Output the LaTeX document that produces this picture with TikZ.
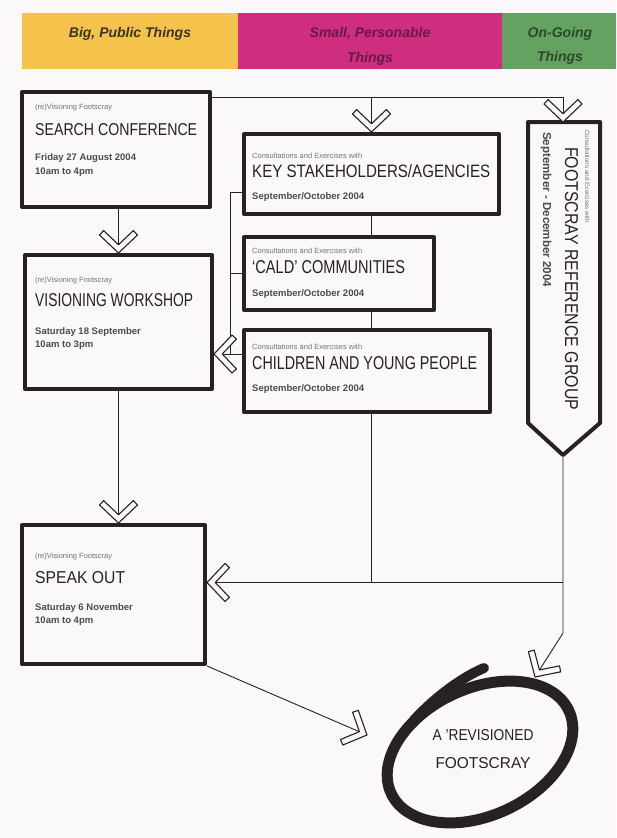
\documentclass[tikz,border=0pt]{standalone}
\usepackage{fontspec}
\setmainfont{Liberation Sans}
\usepackage{graphicx}
\usetikzlibrary{calc,shapes.geometric}
\definecolor{bgc}{RGB}{250,248,248}
\definecolor{ylw}{RGB}{245,194,76}
\definecolor{mag}{RGB}{207,46,128}
\definecolor{grn}{RGB}{99,162,96}
\definecolor{hdy}{RGB}{60,52,36}
\definecolor{hdm}{RGB}{104,26,70}
\definecolor{hdg}{RGB}{44,72,42}
\definecolor{ink}{RGB}{40,33,33}
\definecolor{greytxt}{RGB}{118,114,114}
\definecolor{datec}{RGB}{78,74,74}
\newcommand{\hwtext}[3]{\resizebox{#1pt}{#2pt}{#3}}
\begin{document}
\begin{tikzpicture}[x=1pt,y=-1pt,
  sbox/.style={draw=ink, line width=4pt, inner sep=0pt, anchor=north west, line join=round},
  conn/.style={draw=ink, line width=0.9pt},
  smalltxt/.style={anchor=base west, inner sep=0pt, text=greytxt, font=\fontsize{7.5}{9}\selectfont},
  datetxt/.style={anchor=base west, inner sep=0pt, text=datec, font=\fontsize{9.5}{11}\selectfont\bfseries},
  bigtxt/.style={anchor=base west, inner sep=0pt, text=ink},
  headtxt/.style={anchor=base, inner sep=0pt, font=\fontsize{14}{16}\selectfont\bfseries\itshape},
  chev/.pic={\filldraw[fill=bgc, draw=ink, line width=1.1pt, line join=round] (0,0) -- (-18,-19) -- (-22.4,-14.9) -- (-8.3,0) -- (-22.4,14.9) -- (-18,19) -- cycle;}
]
\useasboundingbox (0,0) rectangle (616,838);
\fill[bgc] (0,0) rectangle (616,838);
% header
\fill[ylw] (22,13) rectangle (238,69);
\fill[mag] (238,13) rectangle (502,69);
\fill[grn] (502,13) rectangle (616,69);
\node[headtxt, text=hdy] (h1) at (130,37) {Big, Public Things};
\node[headtxt, text=hdm] (h2) at (370,37) {Small, Personable};
\node[headtxt, text=hdm] (h2b) at (370,62) {Things};
\node[headtxt, text=hdg] (h3) at (560,37) {On-Going};
\node[headtxt, text=hdg] (h3b) at (560,61) {Things};
% boxes
\node[sbox, minimum width=188pt, minimum height=115pt] (sc) at (20,90) {};
\node[sbox, minimum width=187pt, minimum height=134pt] (vw) at (23,253) {};
\node[sbox, minimum width=183pt, minimum height=139pt] (so) at (20,523) {};
\node[sbox, minimum width=255pt, minimum height=80pt] (ksa) at (242,132) {};
\node[sbox, minimum width=190pt, minimum height=73pt] (cald) at (242,235) {};
\node[sbox, minimum width=246pt, minimum height=82pt] (cyp) at (242,328) {};
\draw[draw=ink, line width=4pt, line join=round] (528,122) -- (600,122) -- (600,423) -- (563,455) -- (528,423) -- cycle;
% texts
\node[smalltxt] (sc1) at (35,109) {(re)Visioning Footscray};
\node[bigtxt] (sc2) at (35,135) {\hwtext{162}{12}{SEARCH CONFERENCE}};
\node[datetxt] (sc3) at (35,160) {Friday 27 August 2004};
\node[datetxt] (sc4) at (35,174) {10am to 4pm};
\node[smalltxt] (vw1) at (35,282) {(re)Visioning Footscray};
\node[bigtxt] (vw2) at (35,306) {\hwtext{158}{13}{VISIONING WORKSHOP}};
\node[datetxt] (vw3) at (35,334) {Saturday 18 September};
\node[datetxt] (vw4) at (35,347) {10am to 3pm};
\node[smalltxt] (so1) at (35,558) {(re)Visioning Footscray};
\node[bigtxt] (so2) at (35,583) {\hwtext{90}{12}{SPEAK OUT}};
\node[datetxt] (so3) at (35,610) {Saturday 6 November};
\node[datetxt] (so4) at (35,623) {10am to 4pm};
\node[smalltxt] (ksa1) at (252,158) {Consultations and Exercises with};
\node[bigtxt] (ksa2) at (252,177) {\hwtext{238}{13}{KEY STAKEHOLDERS/AGENCIES}};
\node[datetxt] (ksa3) at (252,199) {September/October 2004};
\node[smalltxt] (cald1) at (252,253) {Consultations and Exercises with};
\node[bigtxt] (cald2) at (252,273) {\hwtext{153}{13}{`CALD' COMMUNITIES}};
\node[datetxt] (cald3) at (252,296) {September/October 2004};
\node[smalltxt] (cyp1) at (252,349) {Consultations and Exercises with};
\node[bigtxt] (cyp2) at (252,369) {\hwtext{225}{13}{CHILDREN AND YOUNG PEOPLE}};
\node[datetxt] (cyp3) at (252,391) {September/October 2004};
\node[smalltxt, rotate=-90] (frg1) at (585,130) {\resizebox{93pt}{!}{Consultations and Exercises with}};
\node[bigtxt, rotate=-90] (frg2) at (565,147) {\hwtext{263}{13}{FOOTSCRAY REFERENCE GROUP}};
\node[datetxt, rotate=-90] (frg3) at (543,132) {\resizebox{155pt}{!}{September - December 2004}};
% goal
\node[ellipse, draw=ink, line width=11pt, minimum width=196pt, minimum height=127pt, inner sep=0pt, rotate=25] (goal) at (480,752) {};
\draw[ink, line width=10pt, line cap=round] (484,668) .. controls (465,676) and (438,694) .. (414,720);
\node[bigtxt, anchor=base] (gt1) at (483,740) {\hwtext{101}{11}{A 'REVISIONED}};
\node[bigtxt, anchor=base] (gt2) at (483,768) {\hwtext{95}{11}{FOOTSCRAY}};
% coordinates
\coordinate (frgtop) at (563,122);
\coordinate (frgtip) at (563,455);
\coordinate (bx) at (230,0);
\coordinate (topl) at ($(sc.north east)+(0,7)$);
\coordinate (cstub) at ($(cyp.west)+(0,-17)$);
\coordinate (kstub) at ($(ksa.west)+(0,18)$);
\coordinate (hl) at ($(so.east)+(0,-12)$);
\coordinate (fbend) at (563,633);
\coordinate (g1) at (535,677);
\coordinate (g2) at (367,735);
% connectors
\draw[conn] (vw.north |- sc.south) -- (vw.north);
\draw[conn] (vw.south) -- (vw.south |- so.north);
\draw[conn] (topl) -| (frgtop);
\draw[conn] (ksa.north |- topl) -- (ksa.north);
\draw[conn] (ksa.south) -- (ksa.south |- cald.north);
\draw[conn] (ksa.south |- cald.south) -- (ksa.south |- cyp.north);
\draw[conn] (ksa.south |- cyp.south) -- (ksa.south |- hl);
\draw[conn] (kstub) -- (kstub -| bx) -- (cstub -| bx);
\draw[conn] (cald.west) -- (cald.west -| bx);
\draw[conn] (cstub) -- (vw.east |- cstub);
\draw[conn] (frgtip) -- (fbend) -- (g1);
\draw[conn] (hl -| frgtip) -- (hl);
\draw[conn] (so.south east) -- (g2);
% arrowheads
\pic[rotate=-90] at (vw.north) {chev};
\pic[rotate=-90] at (vw.south |- so.north) {chev};
\pic[rotate=-90] at (ksa.north) {chev};
\pic[rotate=-90] at (frgtop) {chev};
\pic[rotate=180] at (vw.east |- cstub) {chev};
\pic[rotate=180] at (hl) {chev};
\pic[rotate=-122] at (g1) {chev};
\pic[rotate=-24] at (g2) {chev};
\end{tikzpicture}
\end{document}
